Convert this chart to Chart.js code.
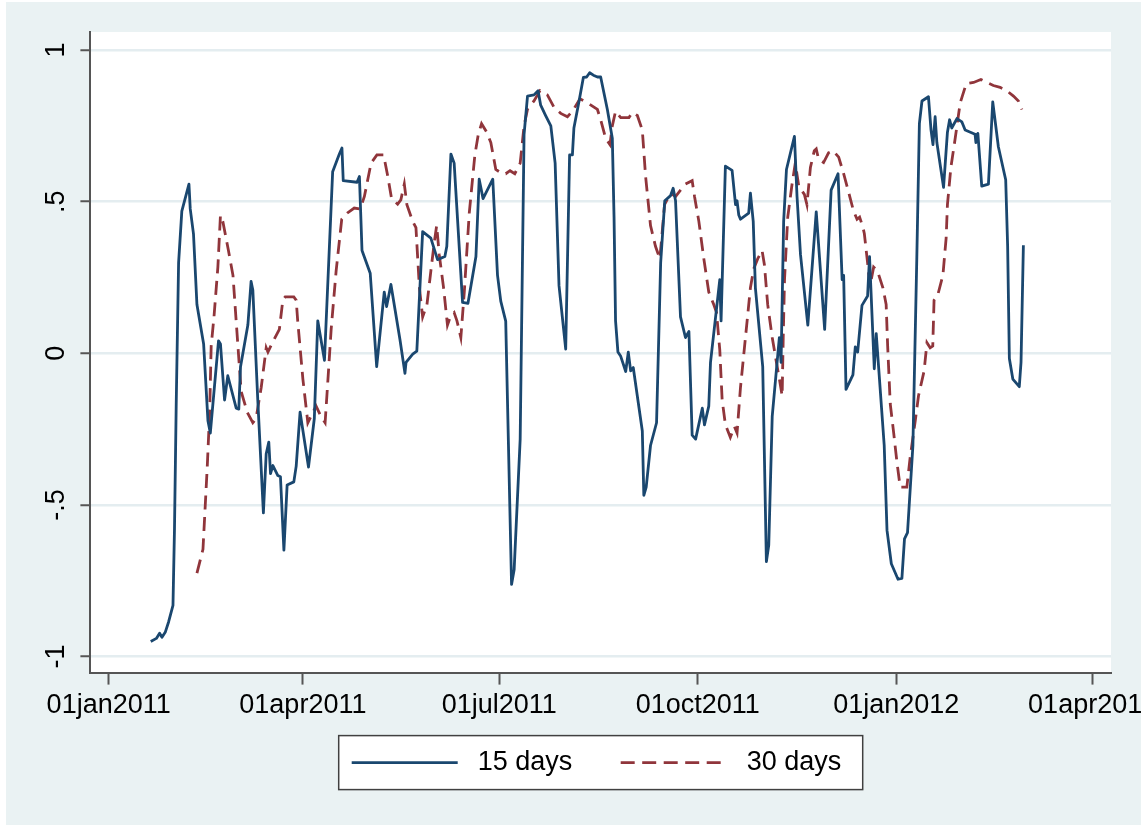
<!DOCTYPE html>
<html>
<head>
<meta charset="utf-8">
<title>15 vs 30 day correlation</title>
<script src="https://cdn.jsdelivr.net/npm/chart.js@4.4.1/dist/chart.umd.min.js"></script>
<style>
  html, body { margin: 0; padding: 0; background: #fff; }
  #wrap { position: absolute; left: 6px; top: 2px; width: 1135px; height: 823px; background: #eaf2f3; }
</style>
</head>
<body>
<div id="wrap"><canvas id="chart" width="1135" height="823"></canvas></div>
<script>
// Days counted from 01jan2011
const xTickDays = [0, 90, 181, 273, 365, 456];
const xTickLabels = ['01jan2011', '01apr2011', '01jul2011', '01oct2011', '01jan2012', '01apr2012'];
const yTicks = [-1, -0.5, 0, 0.5, 1];
const yTickLabels = ['-1', '-.5', '0', '.5', '1'];

const seriesLabels = ['15 days', '30 days'];

// 15 day window
const days15 = [19.5, 22.1, 23.6, 24.7, 26.2, 27.8, 29.8, 30.5, 31.3, 32.4, 33.9, 37.2, 37.8, 39.3, 40.9, 44.0, 46.0, 47.1,
  50.9, 51.8, 53.7, 55.2, 59.1, 60.3, 61.1, 64.5, 66.0, 66.8, 69.1, 71.7, 73.0, 74.2, 75.0, 76.1, 78.4, 79.6, 81.2, 82.7,
  85.8, 86.9, 88.7, 92.6, 95.3, 96.9, 100.0, 103.8, 106.9, 108.1, 108.7, 115.1, 116.2, 117.4, 121.2, 124.2, 127.7, 128.8,
  130.8, 135.0, 137.3, 137.8, 140.9, 142.8, 145.5, 149.3, 152.4, 155.8, 156.7, 158.6, 160.1, 164.0, 166.5, 170.2, 171.7,
  173.5, 178.0, 180.2, 181.7, 184.0, 186.7, 187.9, 190.7, 192.5, 194.1, 197.1, 199.0, 200.2, 202.5, 204.9, 206.9, 208.7,
  211.8, 213.6, 214.9, 215.6, 218.0, 220.0, 221.5, 222.9, 224.6, 226.5, 228.0, 231.1, 233.4, 234.2, 234.9, 236.0, 237.3,
  239.6, 240.8, 241.9, 243.1, 247.3, 248.0, 249.1, 251.1, 253.9, 255.8, 257.7, 260.4, 261.6, 262.7, 265.0, 267.3, 268.9,
  270.4, 272.0, 275.1, 276.1, 278.1, 278.9, 283.2, 283.8, 285.8, 288.9, 290.5, 291.2, 292.0, 292.8, 296.6, 297.4, 298.7,
  299.7, 303.1, 304.8, 305.9, 307.5, 310.8, 311.6, 312.8, 314.1, 317.8, 319.0, 320.6, 324.0, 327.9, 331.8, 334.8, 338.0,
  339.9, 340.6, 341.7, 344.9, 346.0, 347.1, 349.1, 351.7, 352.6, 354.8, 355.7, 359.4, 360.7, 362.7, 365.8, 367.6, 368.8,
  370.2, 372.7, 374.5, 375.7, 376.9, 379.9, 381.1, 382.0, 383.0, 383.8, 386.9, 388.7, 389.7, 390.7, 393.1, 395.4, 396.9,
  401.5, 401.9, 402.8, 404.6, 407.7, 409.7, 412.3, 415.7, 416.6, 417.4, 419.0, 422.0, 422.8, 423.9];
const corr15 = [-0.950, -0.940, -0.923, -0.936, -0.920, -0.885, -0.831, -0.578, -0.167, 0.298, 0.469, 0.558, 0.476, 0.394,
  0.161, 0.031, -0.222, -0.263, 0.041, 0.031, -0.154, -0.074, -0.181, -0.184, -0.044, 0.093, 0.237, 0.209, -0.154, -0.526,
  -0.331, -0.293, -0.397, -0.370, -0.403, -0.407, -0.649, -0.434, -0.424, -0.372, -0.194, -0.375, -0.215, 0.107, -0.023,
  0.599, 0.657, 0.677, 0.569, 0.564, 0.583, 0.339, 0.264, -0.044, 0.202, 0.154, 0.227, 0.045, -0.066, -0.030, -0.003,
  0.007, 0.401, 0.380, 0.309, 0.319, 0.353, 0.657, 0.627, 0.168, 0.165, 0.319, 0.574, 0.510, 0.574, 0.257, 0.172, 0.106,
  -0.762, -0.714, -0.283, 0.722, 0.848, 0.852, 0.866, 0.818, 0.784, 0.750, 0.627, 0.223, 0.014, 0.654, 0.654, 0.743,
  0.832, 0.910, 0.911, 0.925, 0.917, 0.911, 0.911, 0.804, 0.709, 0.449, 0.107, 0.004, -0.010, -0.060, 0.004, -0.058,
  -0.047, -0.256, -0.468, -0.441, -0.304, -0.229, 0.298, 0.503, 0.520, 0.544, 0.503, 0.120, 0.052, 0.072, -0.270, -0.283,
  -0.181, -0.236, -0.174, -0.030, 0.243, 0.107, 0.617, 0.603, 0.490, 0.503, 0.456, 0.442, 0.462, 0.528, 0.435, 0.216,
  -0.044, -0.687, -0.632, -0.208, 0.052, -0.030, 0.435, 0.606, 0.715, 0.517, 0.326, 0.093, 0.466, 0.079, 0.538, 0.592,
  0.243, 0.257, -0.119, -0.071, 0.021, 0.004, 0.158, 0.189, 0.319, -0.051, 0.065, -0.304, -0.584, -0.694, -0.745, -0.742,
  -0.612, -0.591, -0.304, 0.312, 0.757, 0.832, 0.846, 0.736, 0.688, 0.780, 0.695, 0.547, 0.729, 0.770, 0.743, 0.774,
  0.763, 0.736, 0.722, 0.695, 0.725, 0.551, 0.558, 0.829, 0.681, 0.572, 0.353, -0.017, -0.085, -0.110, -0.030, 0.356];

// 30 day window
const days30 = [40.9, 43.7, 45.7, 46.8, 47.5, 48.8, 50.6, 51.8, 52.9, 55.5, 57.6, 59.9, 61.4, 64.2, 66.8, 68.3, 70.7, 73.0,
  73.8, 75.6, 79.1, 80.7, 81.8, 85.8, 86.9, 87.6, 90.0, 92.3, 96.1, 98.4, 100.3, 101.5, 103.1, 105.4, 108.0, 110.5, 113.8,
  116.6, 118.5, 121.6, 124.3, 127.4, 129.3, 131.1, 133.9, 135.4, 137.0, 138.2, 140.9, 142.4, 144.0, 145.5, 147.5, 149.3,
  150.9, 152.0, 153.2, 155.2, 157.0, 158.3, 160.1, 161.4, 163.2, 164.8, 167.1, 169.7, 171.3, 172.8, 175.2, 177.1, 179.4,
  182.5, 184.0, 186.0, 188.2, 190.7, 192.5, 194.1, 197.1, 199.9, 203.3, 206.4, 209.5, 212.6, 214.9, 218.4, 222.1, 226.5,
  228.0, 230.3, 232.3, 233.4, 234.9, 237.3, 241.1, 242.7, 245.0, 247.3, 248.8, 251.1, 253.4, 255.4, 256.2, 257.6, 260.4,
  262.7, 265.0, 267.3, 270.4, 271.5, 273.5, 275.8, 278.1, 280.4, 281.7, 283.2, 284.3, 285.8, 288.1, 290.0, 291.2, 292.8,
  295.1, 297.4, 298.9, 300.8, 302.8, 303.9, 305.4, 307.5, 309.8, 311.0, 312.1, 312.6, 313.2, 314.7, 316.7, 318.2, 319.8,
  322.4, 323.6, 325.2, 327.0, 327.9, 329.0, 331.3, 333.6, 335.7, 338.3, 340.6, 342.9, 345.2, 346.8, 348.0, 349.6, 350.2,
  351.7, 352.8, 354.5, 356.3, 358.8, 360.3, 361.0, 362.2, 363.8, 365.3, 366.8, 369.9, 371.4, 373.8, 375.3, 377.9, 379.2,
  380.7, 381.9, 382.5, 384.1, 386.6, 388.1, 388.7, 390.3, 392.3, 394.6, 397.4, 400.8, 404.2, 407.0, 410.0, 413.1, 416.2,
  419.3, 421.6, 423.2];
const corr30 = [-0.725, -0.646, -0.372, -0.194, 0.024, 0.120, 0.284, 0.455, 0.435, 0.339, 0.257, 0.024, -0.126, -0.194,
  -0.229, -0.215, -0.112, 0.018, 0.004, 0.031, 0.079, 0.175, 0.186, 0.186, 0.175, 0.107, -0.085, -0.229, -0.174, -0.208,
  -0.229, -0.099, 0.079, 0.271, 0.442, 0.462, 0.479, 0.476, 0.517, 0.627, 0.654, 0.654, 0.585, 0.510, 0.492, 0.506, 0.558,
  0.490, 0.435, 0.414, 0.216, 0.120, 0.161, 0.271, 0.366, 0.421, 0.325, 0.216, 0.093, 0.120, 0.134, 0.107, 0.052, 0.202,
  0.462, 0.654, 0.722, 0.757, 0.729, 0.695, 0.606, 0.592, 0.592, 0.602, 0.592, 0.627, 0.750, 0.805, 0.832, 0.866, 0.852,
  0.811, 0.791, 0.780, 0.798, 0.839, 0.825, 0.804, 0.770, 0.709, 0.688, 0.750, 0.798, 0.777, 0.777, 0.794, 0.784, 0.736,
  0.585, 0.421, 0.353, 0.312, 0.373, 0.490, 0.528, 0.517, 0.538, 0.558, 0.569, 0.517, 0.435, 0.312, 0.202, 0.161, 0.134,
  0.011, -0.154, -0.235, -0.277, -0.242, -0.263, -0.112, 0.052, 0.216, 0.278, 0.312, 0.339, 0.291, 0.161, 0.052, -0.044,
  -0.092, -0.140, 0.052, 0.243, 0.449, 0.558, 0.627, 0.551, 0.524, 0.490, 0.613, 0.668, 0.674, 0.640, 0.629, 0.661, 0.668,
  0.647, 0.592, 0.531, 0.469, 0.442, 0.449, 0.414, 0.394, 0.298, 0.221, 0.284, 0.271, 0.216, 0.161, 0.024, -0.167, -0.263,
  -0.359, -0.441, -0.441, -0.345, -0.222, -0.140, -0.058, 0.035, 0.018, 0.024, 0.175, 0.189, 0.257, 0.380, 0.490, 0.613,
  0.709, 0.825, 0.889, 0.893, 0.903, 0.893, 0.883, 0.877, 0.866, 0.848, 0.832, 0.804];

const colors = {
    navy: '#1a476f',
    maroon: '#90353b',
    axis: '#555555',
    grid: '#e4edf0',
    text: '#000000'
};
const tickFont = { family: '"Liberation Sans", Arial, Helvetica, sans-serif', size: 27, lineHeight: 1.2 };

const toPoints = (xs, ys) => xs.map((x, i) => ({ x: x, y: ys[i] }));

// white plot region, Stata style
const plotRegion = {
    id: 'plotRegion',
    beforeDraw(chart) {
        const { ctx, chartArea: a } = chart;
        ctx.save();
        ctx.fillStyle = '#ffffff';
        ctx.fillRect(a.left, a.top, a.right - a.left, a.bottom - a.top);
        ctx.restore();
    }
};

// boxed legend under the plot, centred on the plot region
const boxLegend = {
    id: 'boxLegend',
    afterDraw(chart) {
        const { ctx, chartArea: a } = chart;
        const w = 524, h = 54;
        const left = (a.left + a.right) / 2 - w / 2;
        const top = a.bottom + 63;
        const midY = top + h / 2;
        ctx.save();
        ctx.fillStyle = '#ffffff';
        ctx.fillRect(left, top, w, h);
        ctx.strokeStyle = '#404040';
        ctx.lineWidth = 1.5;
        ctx.strokeRect(left, top, w, h);
        const slots = [13, 282];
        chart.data.datasets.forEach((ds, i) => {
            const x0 = left + slots[i];
            ctx.beginPath();
            ctx.strokeStyle = ds.borderColor;
            ctx.lineWidth = ds.borderWidth;
            ctx.setLineDash(ds.borderDash || []);
            ctx.moveTo(x0, midY);
            ctx.lineTo(x0 + 106, midY);
            ctx.stroke();
            ctx.setLineDash([]);
            ctx.fillStyle = colors.text;
            ctx.font = tickFont.size + 'px ' + tickFont.family;
            ctx.textBaseline = 'middle';
            ctx.textAlign = 'left';
            ctx.fillText(ds.label, x0 + 126, midY);
        });
        ctx.restore();
    }
};

const ctx = document.getElementById('chart').getContext('2d');
const chart = new Chart(ctx, {
    type: 'line',
    data: {
        datasets: [{
            label: seriesLabels[0],
            data: toPoints(days15, corr15),
            borderColor: colors.navy,
            borderWidth: 2.8,
            borderJoinStyle: 'round',
            pointRadius: 0,
            tension: 0,
            fill: false
        }, {
            label: seriesLabels[1],
            data: toPoints(days30, corr30),
            borderColor: colors.maroon,
            borderWidth: 2.8,
            borderDash: [14, 7.5],
            pointRadius: 0,
            tension: 0,
            fill: false
        }]
    },
    options: {
        responsive: false,
        animation: false,
        layout: {
            padding: { left: 26, top: 30, right: 30, bottom: 98 }
        },
        scales: {
            x: {
                type: 'linear',
                position: 'bottom',
                min: -8.47,
                max: 464.5,
                afterBuildTicks: (axis) => { axis.ticks = xTickDays.map(v => ({ value: v })); },
                afterFit: (axis) => { axis.paddingLeft = 0; axis.paddingRight = 0; },
                grid: {
                    drawOnChartArea: false,
                    drawTicks: true,
                    tickLength: 12,
                    tickColor: colors.axis,
                    tickWidth: 2
                },
                border: { display: true, color: colors.axis, width: 2 },
                ticks: {
                    autoSkip: false,
                    maxRotation: 0,
                    minRotation: 0,
                    padding: 5,
                    color: colors.text,
                    font: tickFont,
                    callback: (value, index) => xTickLabels[index]
                }
            },
            y: {
                min: -1.0528,
                max: 1.0594,
                afterBuildTicks: (axis) => { axis.ticks = yTicks.map(v => ({ value: v })); },
                grid: {
                    color: colors.grid,
                    lineWidth: 2.5,
                    drawTicks: true,
                    tickLength: 10,
                    tickColor: colors.axis,
                    tickWidth: 2
                },
                border: { display: true, color: colors.axis, width: 2 },
                ticks: {
                    minRotation: 90,
                    maxRotation: 90,
                    crossAlign: 'center',
                    padding: 8,
                    color: colors.text,
                    font: tickFont,
                    callback: (value, index) => yTickLabels[index]
                }
            }
        },
        plugins: {
            legend: { display: false },
            tooltip: { enabled: false }
        }
    },
    plugins: [plotRegion, boxLegend]
});
</script>
</body>
</html>
